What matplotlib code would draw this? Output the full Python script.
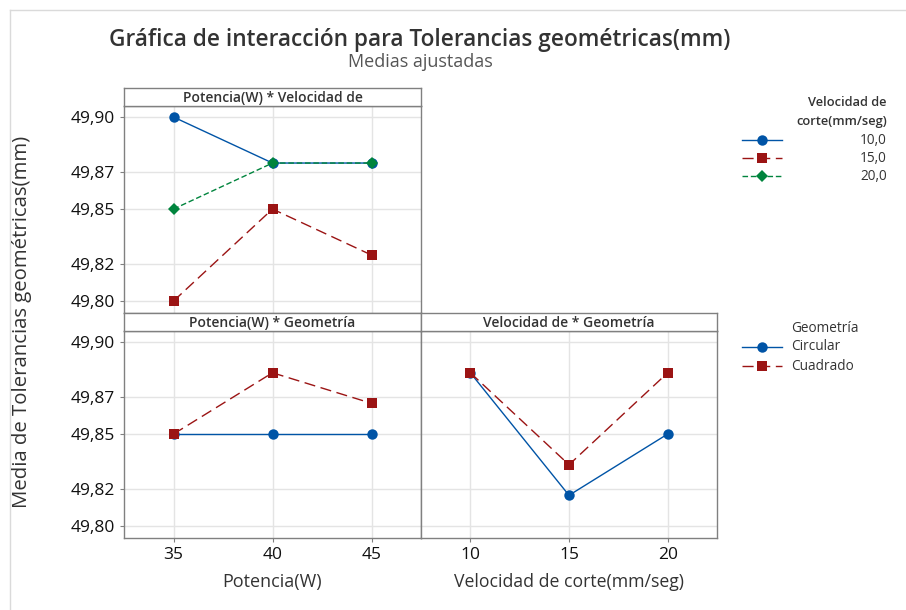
import matplotlib
matplotlib.use("Agg")
import matplotlib.pyplot as plt
from matplotlib.lines import Line2D

plt.rcParams["font.family"] = ["Open Sans", "DejaVu Sans"]

# data (adjusted means, mm)
potencia = [35, 40, 45]
velocidad = [10, 15, 20]
vel_levels = ["10,0", "15,0", "20,0"]
geo_levels = ["Circular", "Cuadrado"]

pot_x_vel = {
    "10,0": [49.900, 49.875, 49.875],
    "15,0": [49.800, 49.850, 49.825],
    "20,0": [49.850, 49.875, 49.875],
}
pot_x_geo = {
    "Circular": [49.850, 49.850, 49.850],
    "Cuadrado": [49.8500, 49.8833, 49.8667],
}
vel_x_geo = {
    "Circular": [49.8833, 49.8167, 49.8500],
    "Cuadrado": [49.8833, 49.8333, 49.8833],
}

yticks = [49.80, 49.82, 49.85, 49.87, 49.90]
ytick_labels = ["49,80", "49,82", "49,85", "49,87", "49,90"]

BLUE = "#0054A6"
RED = "#9B1414"
GREEN = "#00843D"
styles = {
    "10,0": dict(color=BLUE, marker="o", ls="-", ms=7.5),
    "15,0": dict(color=RED, marker="s", ls=(0, (8, 4)), ms=7),
    "20,0": dict(color=GREEN, marker="D", ls=(0, (4, 2)), ms=6),
    "Circular": dict(color=BLUE, marker="o", ls="-", ms=7.5),
    "Cuadrado": dict(color=RED, marker="s", ls=(0, (8, 4)), ms=7),
}
SPINE = "#808080"
GRID = "#E4E4E4"
TXT = "#333333"

W, H = 906, 610


def rect(x0, y0, x1, y1):
    # pixel box (top-left origin) -> figure fraction
    return [x0 / W, (H - y1) / H, (x1 - x0) / W, (y1 - y0) / H]


fig = plt.figure(figsize=(9.06, 6.10), dpi=100)

# light frame at top/left as in the screenshot
fig.add_artist(Line2D([10 / W, 1], [1 - 10 / H, 1 - 10 / H], transform=fig.transFigure,
                      color="#DADADA", lw=1))
fig.add_artist(Line2D([10 / W, 10 / W], [0, 1 - 10 / H], transform=fig.transFigure,
                      color="#DADADA", lw=1))

ax_tl = fig.add_axes(rect(124, 106, 421, 313))
ax_bl = fig.add_axes(rect(124, 331, 421, 538))
ax_br = fig.add_axes(rect(421, 331, 717, 538))

panels = [
    (ax_tl, potencia, pot_x_vel, vel_levels, (32.5, 47.5)),
    (ax_bl, potencia, pot_x_geo, geo_levels, (32.5, 47.5)),
    (ax_br, velocidad, vel_x_geo, geo_levels, (7.5, 22.5)),
]
for ax, xs, d, levels, xlim in panels:
    for lev in levels:
        st = styles[lev]
        ax.plot(xs, d[lev], color=st["color"], ls=st["ls"], lw=1, marker=st["marker"],
                ms=st["ms"], markeredgewidth=0, zorder=3)
    ax.set_xlim(*xlim)
    ax.set_ylim(49.7935, 49.906)
    ax.set_xticks(xs)
    ax.set_yticks(yticks)
    ax.set_yticklabels(ytick_labels)
    ax.grid(True, color=GRID, lw=1)
    ax.set_axisbelow(True)
    for sp in ax.spines.values():
        sp.set_color(SPINE)
        sp.set_linewidth(1)
    ax.tick_params(colors=SPINE, labelcolor="#111111", labelsize=12.5, length=3)

ax_tl.tick_params(axis="x", length=0, labelbottom=False)
ax_br.tick_params(axis="y", length=0, labelleft=False)
ax_bl.set_xticklabels([str(v) for v in potencia])
ax_br.set_xticklabels([str(v) for v in velocidad])
ax_bl.set_xlabel("Potencia(W)", fontsize=13, color=TXT, labelpad=7)
ax_br.set_xlabel("Velocidad de corte(mm/seg)", fontsize=12.7, color=TXT, labelpad=7)

# strip headers
strips = [
    (rect(124, 88, 421, 106), "Potencia(W) * Velocidad de"),
    (rect(124, 313, 421, 331), "Potencia(W) * Geometría"),
    (rect(421, 313, 717, 331), "Velocidad de * Geometría"),
]
for r, label in strips:
    s = fig.add_axes(r)
    s.set_xticks([])
    s.set_yticks([])
    for sp in s.spines.values():
        sp.set_color(SPINE)
        sp.set_linewidth(1)
    s.text(0.5, 0.45, label, ha="center", va="center", fontsize=10, color=TXT,
           weight="semibold", transform=s.transAxes)

fig.text(420 / W, 1 - 40 / H, "Gráfica de interacción para Tolerancias geométricas(mm)",
         ha="center", va="center", fontsize=16.3, weight="semibold", color=TXT)
fig.text(420 / W, 1 - 62 / H, "Medias ajustadas", ha="center", va="center",
         fontsize=13, color="#555555")
fig.text(22 / W, 1 - 322 / H, "Media de Tolerancias geométricas(mm)", rotation=90,
         ha="center", va="center", fontsize=14.7, color=TXT)


def legend_row(y, lev, label, lx, ha):
    st = styles[lev]
    yf = 1 - y / H
    fig.add_artist(Line2D([742 / W, 782 / W], [yf, yf], transform=fig.transFigure,
                          color=st["color"], ls=st["ls"], lw=1))
    fig.add_artist(Line2D([762 / W], [yf], transform=fig.transFigure, color=st["color"],
                          marker=st["marker"], ms=st["ms"], markeredgewidth=0, ls="none"))
    fig.text(lx / W, yf, label, ha=ha, va="center", fontsize=9.8, color=TXT)


fig.text(887 / W, 1 - 103 / H, "Velocidad de", ha="right", va="center", fontsize=9.3,
         weight="semibold", color=TXT)
fig.text(887 / W, 1 - 121 / H, "corte(mm/seg)", ha="right", va="center", fontsize=9.3,
         weight="semibold", color=TXT)
for y, lev in zip([140, 158, 176], vel_levels):
    legend_row(y, lev, lev, 887, "right")

fig.text(791 / W, 1 - 328 / H, "Geometría", ha="left", va="center", fontsize=9.8, color=TXT)
for y, lev in zip([347, 366], geo_levels):
    legend_row(y, lev, lev, 791, "left")

fig.savefig("out.png", dpi=100)
